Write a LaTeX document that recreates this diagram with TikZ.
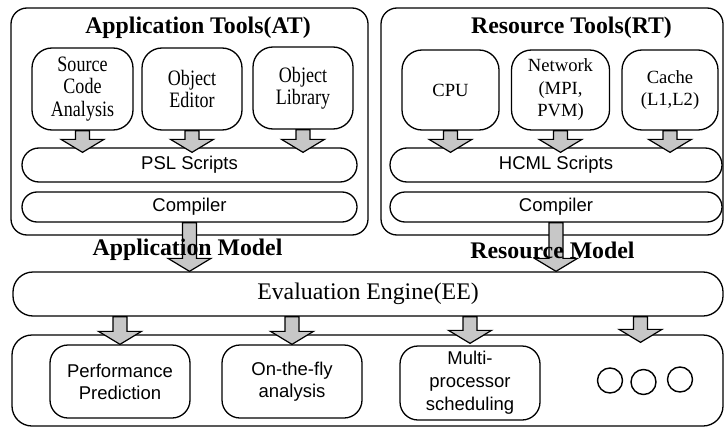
\documentclass[tikz,border=0pt]{standalone}
\usepackage{fontspec}
\setmainfont{Liberation Serif}
\setsansfont{Liberation Sans}
\newfontfamily\condserif[FakeStretch=0.82]{Liberation Serif}
\usetikzlibrary{calc,shapes.geometric}
\tikzset{
  box/.style={draw, line width=1.3pt, rounded corners=#1, inner sep=0pt, align=center},
  box/.default=18pt,
  condsub/.style={font=\condserif\fontsize{22}{22.5}\selectfont},
  serifsub/.style={font=\fontsize{18.6}{22.5}\selectfont},
  sanstxt/.style={font=\sffamily\fontsize{18.5}{22}\selectfont},
  titletxt/.style={font=\bfseries\fontsize{23.8}{26}\selectfont},
  eetxt/.style={font=\fontsize{23.8}{26}\selectfont},
  dotcircle/.style={draw, line width=1.4pt, circle, minimum size=25, inner sep=0pt},
  barrow/.style={fill=black!22, draw=black, line width=1.2pt, line join=miter},
}
\newcommand\blockarrow[2]{%
  \filldraw[barrow] let \p1=#1, \p2=#2 in
  (\x1-7pt,\y1) -- (\x1-7pt,\y2+13pt) -- (\x1-21.5pt,\y2+13pt) -- (\x1,\y2)
  -- (\x1+21.5pt,\y2+13pt) -- (\x1+7pt,\y2+13pt) -- (\x1+7pt,\y1) -- cycle;}
\begin{document}
\begin{tikzpicture}[x=1pt,y=-1pt]
\useasboundingbox (0,0) rectangle (725,428);
% outer tool boxes
\node[box=16pt, minimum width=357, minimum height=227] (at) at (189.5,121.5) {};
\node[box=16pt, minimum width=342, minimum height=227] (rt) at (552,121.5) {};
\node[titletxt] (attitle) at (198,28) {Application Tools(AT)};
\node[titletxt] (rttitle) at (571.5,28) {Resource Tools(RT)};
% application tool boxes
\node[box=20pt, condsub, minimum width=101, minimum height=82] (sca) at (82.5,89) {Source\\Code\\Analysis};
\node[box=20pt, condsub, minimum width=100, minimum height=82] (oe) at (192,89) {Object\\Editor};
\node[box=20pt, condsub, minimum width=100, minimum height=82] (ol) at (303,88) {Object\\Library};
% resource tool boxes
\node[box=20pt, serifsub, minimum width=97, minimum height=80] (cpu) at (450.5,90) {CPU};
\node[box=20pt, serifsub, minimum width=98, minimum height=80] (net) at (560.5,90) {Network\\(MPI,\\PVM)};
\node[box=20pt, serifsub, minimum width=96, minimum height=80] (cache) at (670,90) {Cache\\(L1,L2)};
% scripts and compilers
\node[box=17pt, sanstxt, minimum width=335, minimum height=34] (psl) at (189.5,165) {PSL Scripts};
\node[box=15pt, sanstxt, minimum width=335, minimum height=30] (atc) at (189.5,207) {Compiler};
\node[box=17pt, sanstxt, minimum width=332, minimum height=34] (hcml) at (556,165) {HCML Scripts};
\node[box=15pt, sanstxt, minimum width=332, minimum height=30] (rtc) at (556,207) {Compiler};
% evaluation engine
\node[box=20pt, eetxt, minimum width=710, minimum height=44] (ee) at (368,294) {Evaluation Engine(EE)};
% bottom box
\node[box=20pt, minimum width=711, minimum height=91] (out) at (367.5,380.5) {};
\node[box=18pt, sanstxt, minimum width=140, minimum height=73] (pp) at (120,381.5) {Performance\\Prediction};
\node[box=18pt, sanstxt, minimum width=140, minimum height=73] (otf) at (292,381.5) {On-the-fly\\analysis};
\node[box=18pt, sanstxt, minimum width=140, minimum height=74, font=\sffamily\fontsize{18.5}{23}\selectfont] (mps) at (470,383) {Multi-\\processor\\scheduling};
\node[dotcircle] (c1) at (610,380.5) {};
\node[dotcircle] (c2) at (643.5,382) {};
\node[dotcircle] (c3) at (680,379.5) {};
% arrows tools -> scripts
\blockarrow{(sca.south)}{($(sca.south|-psl.north)+(0,5)$)}
\blockarrow{(oe.south)}{($(oe.south|-psl.north)+(0,5)$)}
\blockarrow{(ol.south)}{($(ol.south|-psl.north)+(0,5)$)}
\blockarrow{(cpu.south)}{($(cpu.south|-hcml.north)+(0,5)$)}
\blockarrow{(net.south)}{($(net.south|-hcml.north)+(0,5)$)}
\blockarrow{(cache.south)}{($(cache.south|-hcml.north)+(0,5)$)}
% compilers -> EE
\blockarrow{(atc.south)}{(atc.south|-ee.north)}
\blockarrow{(rtc.south)}{(rtc.south|-ee.north)}
% EE -> results
\blockarrow{(pp.north|-ee.south)}{(pp.north)}
\blockarrow{(otf.north|-ee.south)}{(otf.north)}
\blockarrow{(mps.north|-ee.south)}{($(mps.north)+(0,-2)$)}
\blockarrow{($(c2.north|-ee.south)+(-3,0)$)}{($(c2.north|-out.north)+(-3,8)$)}
% model labels
\node[titletxt] (appmodel) at (187.5,250) {Application Model};
\node[titletxt] (resmodel) at (552.5,250) {Resource Model};
\end{tikzpicture}
\end{document}
